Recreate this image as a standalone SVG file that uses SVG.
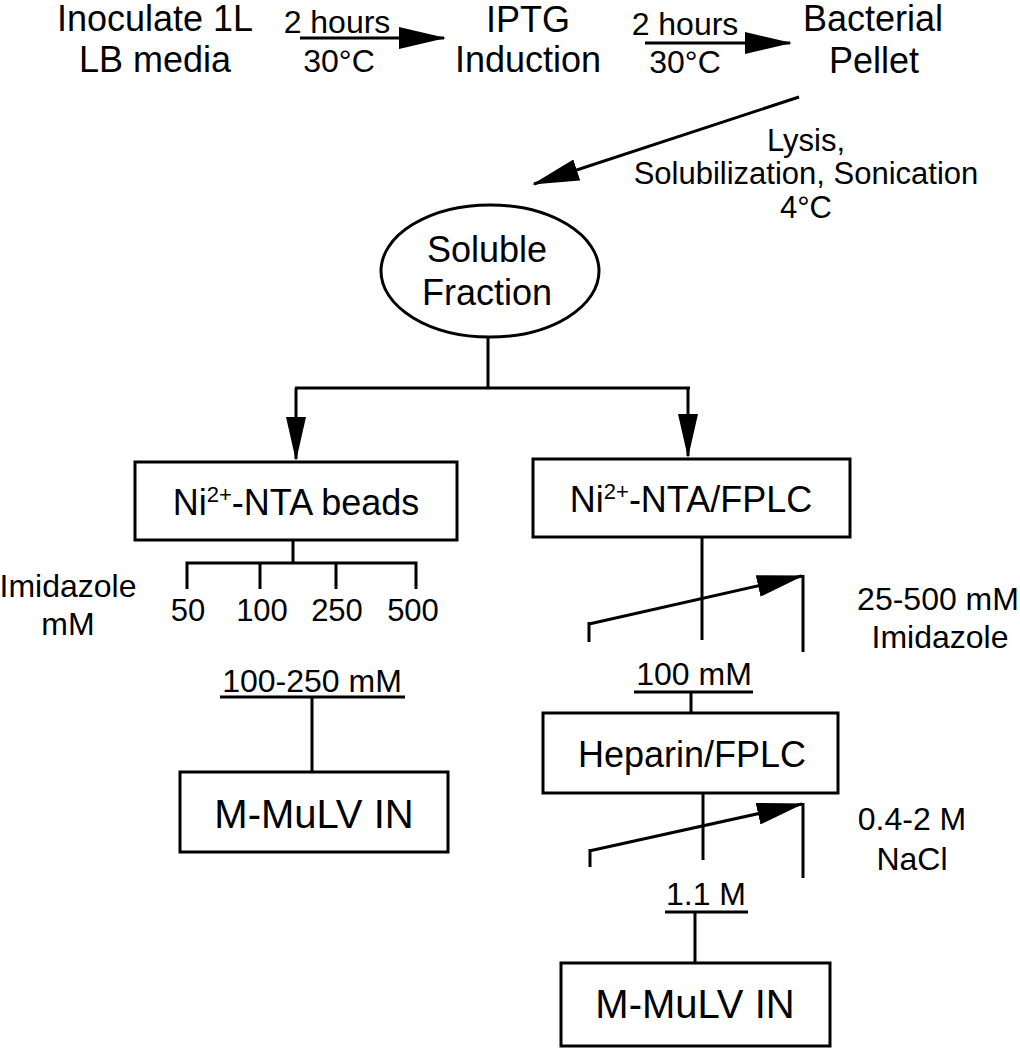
<svg xmlns="http://www.w3.org/2000/svg" width="1020" height="1050" viewBox="0 0 1020 1050">
<defs>
<style>
text{font-family:"Liberation Sans",Arial,sans-serif;fill:#000;text-anchor:middle}
.n{font-size:36px}
.b{font-size:40px}
.l{font-size:32px}
.m{font-size:31px}
.s{font-size:31px}
.sup{font-size:22px}
.ln{stroke:#000;stroke-width:3;fill:none}
.box{stroke:#000;stroke-width:3;fill:#fff}
</style>
<marker id="ah" markerUnits="userSpaceOnUse" markerWidth="48" markerHeight="22" refX="45" refY="11" orient="auto" viewBox="0 0 48 22">
<path d="M0,0 L47,11 L0,22 z" fill="#000"/>
</marker>
<marker id="ahd" markerUnits="userSpaceOnUse" markerWidth="44" markerHeight="20" refX="42" refY="10" orient="auto" viewBox="0 0 44 20">
<path d="M0,0 L44,10 L0,20 z" fill="#000"/>
</marker>
</defs>
<rect width="1020" height="1050" fill="#fff"/>

<g id="connectors">
<line class="ln" x1="300" y1="38" x2="444" y2="38" marker-end="url(#ah)"/>
<line class="ln" x1="645" y1="43" x2="790" y2="43" marker-end="url(#ah)"/>
<line class="ln" x1="799" y1="97" x2="534" y2="184" marker-end="url(#ah)"/>
<line class="ln" x1="488" y1="338" x2="488" y2="388"/>
<line class="ln" x1="295" y1="388" x2="690" y2="388"/>
<line class="ln" x1="296" y1="388" x2="296" y2="459" marker-end="url(#ahd)"/>
<line class="ln" x1="688" y1="388" x2="688" y2="456" marker-end="url(#ahd)"/>
<!-- left branch -->
<line class="ln" x1="293" y1="540" x2="293" y2="563"/>
<path class="ln" d="M187,589 V563 H416 V589 M260,563 V589 M336,563 V589"/>
<line class="ln" x1="220" y1="697" x2="405" y2="697"/>
<line class="ln" x1="312" y1="697" x2="312" y2="772"/>
<!-- right branch -->
<line class="ln" x1="702" y1="537" x2="702" y2="640"/>
<line class="ln" x1="589" y1="624" x2="802" y2="576" marker-end="url(#ah)"/>
<line class="ln" x1="589" y1="622" x2="589" y2="642"/>
<line class="ln" x1="803" y1="575" x2="803" y2="652"/>
<line class="ln" x1="634" y1="692" x2="753" y2="692"/>
<line class="ln" x1="691" y1="692" x2="691" y2="713"/>
<line class="ln" x1="703" y1="793" x2="703" y2="860"/>
<line class="ln" x1="589" y1="851" x2="802" y2="804" marker-end="url(#ah)"/>
<line class="ln" x1="590" y1="849" x2="590" y2="867"/>
<line class="ln" x1="803" y1="803" x2="803" y2="878"/>
<line class="ln" x1="665" y1="912" x2="748" y2="912"/>
<line class="ln" x1="695" y1="912" x2="695" y2="963"/>
</g>

<g id="labels">
<text class="l" x="337" y="33">2 hours</text>
<text class="l" x="339" y="72">30°C</text>
<text class="l" x="685" y="35">2 hours</text>
<text class="l" x="685" y="73">30°C</text>
<text class="m" x="806" y="151">Lysis,</text>
<text class="m" x="806" y="184">Solubilization, Sonication</text>
<text class="m" x="806" y="218">4°C</text>
<text class="l" x="68" y="597">Imidazole</text>
<text class="l" x="68" y="635">mM</text>
<text class="s" x="188" y="621">50</text>
<text class="s" x="262" y="621">100</text>
<text class="s" x="337" y="621">250</text>
<text class="s" x="413" y="621">500</text>
<text class="l" x="312" y="692">100-250 mM</text>
<text class="l" x="938" y="610">25-500 mM</text>
<text class="l" x="940" y="648">Imidazole</text>
<text class="l" x="694" y="685">100 mM</text>
<text class="l" x="912" y="830">0.4-2 M</text>
<text class="l" x="912" y="870">NaCl</text>
<text class="l" x="706" y="905">1.1 M</text>
</g>

<g id="node-inoculate">
<text class="n" x="155" y="31">Inoculate 1L</text>
<text class="n" x="155" y="72">LB media</text>
</g>
<g id="node-iptg">
<text class="n" x="528" y="32">IPTG</text>
<text class="n" x="528" y="72">Induction</text>
</g>
<g id="node-pellet">
<text class="n" x="873" y="31">Bacterial</text>
<text class="n" x="874" y="73">Pellet</text>
</g>
<g id="node-soluble">
<ellipse cx="490" cy="271" rx="109" ry="66" class="box"/>
<text class="n" x="487" y="262">Soluble</text>
<text class="n" x="487" y="305">Fraction</text>
</g>
<g id="node-ni-beads">
<rect class="box" x="135" y="462" width="322" height="78"/>
<text class="n" x="296" y="515">Ni<tspan class="sup" dy="-13">2+</tspan><tspan dy="13">-NTA beads</tspan></text>
</g>
<g id="node-mmulv-left">
<rect class="box" x="180" y="772" width="268" height="80"/>
<text class="b" x="314" y="828">M-MuLV IN</text>
</g>
<g id="node-ni-fplc">
<rect class="box" x="533" y="459" width="317" height="78"/>
<text class="n" x="691" y="512">Ni<tspan class="sup" dy="-13">2+</tspan><tspan dy="13">-NTA/FPLC</tspan></text>
</g>
<g id="node-heparin">
<rect class="box" x="543" y="713" width="295" height="80"/>
<text class="n" x="692" y="767">Heparin/FPLC</text>
</g>
<g id="node-mmulv-right">
<rect class="box" x="561" y="963" width="269" height="83"/>
<text class="b" x="695" y="1018">M-MuLV IN</text>
</g>
</svg>
